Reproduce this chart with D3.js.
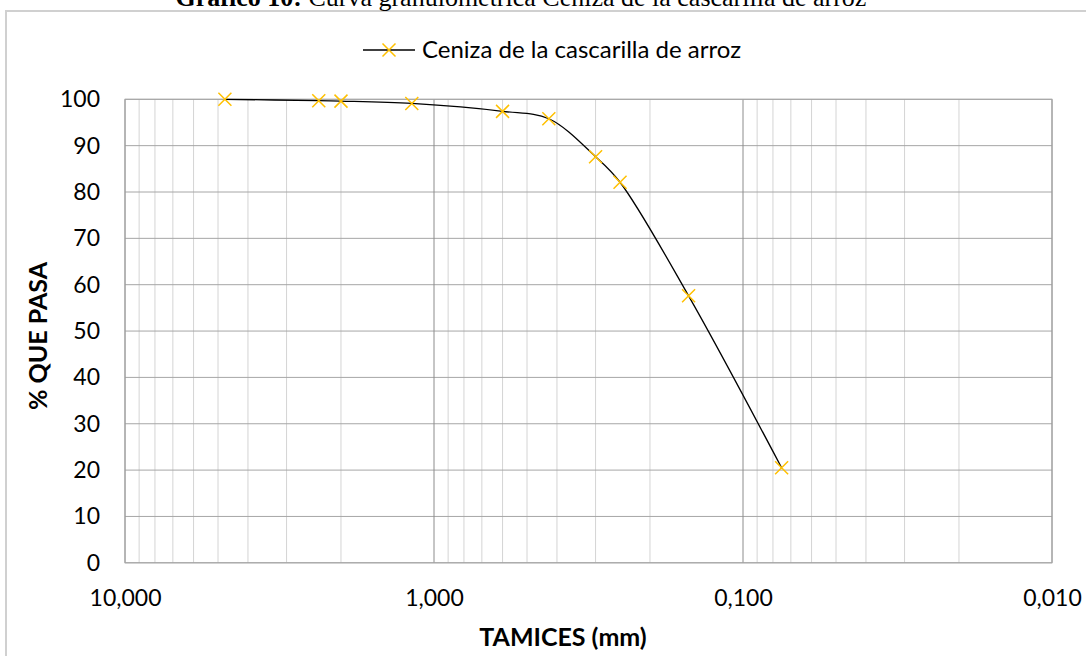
<!DOCTYPE html>
<html>
<head>
<meta charset="utf-8">
<script src="https://cdn.jsdelivr.net/npm/d3@7"></script>
<style>
  html, body { margin: 0; padding: 0; background: #fff; }
  svg { display: block; }
</style>
</head>
<body>
<svg id="chart" width="1086" height="656"></svg>
<script>
// Sieve openings (mm) and cumulative percentage passing
const sieves = [4.75, 2.36, 2.00, 1.18, 0.60, 0.425, 0.300, 0.250, 0.150, 0.075];
const passing = [100, 99.7, 99.6, 99.1, 97.4, 95.8, 87.6, 82.1, 57.6, 20.5];
const xTicks = [10, 1, 0.1, 0.01];
const yTicks = [0, 10, 20, 30, 40, 50, 60, 70, 80, 90, 100];
const seriesName = "Ceniza de la cascarilla de arroz";

const svg = d3.select("#chart");
const plot = { left: 125, right: 1052, top: 99.3, bottom: 562.8 };
const sansFont = "Lato, 'Open Sans', sans-serif";

// chart frame
svg.append("rect")
  .attr("x", 6).attr("y", 11)
  .attr("width", 1200).attr("height", 700)
  .attr("fill", "#fff").attr("stroke", "#d0d0d0").attr("stroke-width", 2);

// caption above the chart
const cap = svg.append("text")
  .attr("x", 521).attr("y", 6)
  .attr("text-anchor", "middle")
  .attr("font-family", "'Liberation Serif', 'Times New Roman', serif")
  .attr("font-size", 26)
  .attr("fill", "#000");
cap.append("tspan").attr("font-weight", "bold").text("Gráfico 10:");
cap.append("tspan").text(" Curva granulométrica Ceniza de la cascarilla de arroz");

const x = d3.scaleLog().domain([10, 0.01]).range([plot.left, plot.right]);
const y = d3.scaleLinear().domain([0, 100]).range([plot.bottom, plot.top]);

// vertical grid: minor lines inside each decade, darker at decades
const minor = [];
for (let e = -2; e <= 0; e++) {
  for (let m = 2; m <= 9; m++) minor.push(m * Math.pow(10, e));
}
const g = svg.append("g");
g.selectAll("line.vminor").data(minor).join("line")
  .attr("x1", d => x(d)).attr("x2", d => x(d))
  .attr("y1", plot.top).attr("y2", plot.bottom)
  .attr("stroke", "#d4d4d4").attr("stroke-width", 1);

// horizontal grid
g.selectAll("line.h").data(yTicks).join("line")
  .attr("x1", plot.left).attr("x2", plot.right)
  .attr("y1", d => y(d)).attr("y2", d => y(d))
  .attr("stroke", "#a6a6a6").attr("stroke-width", 1);

g.selectAll("line.vmajor").data(xTicks).join("line")
  .attr("x1", d => x(d)).attr("x2", d => x(d))
  .attr("y1", plot.top).attr("y2", plot.bottom)
  .attr("stroke", "#8c8c8c").attr("stroke-width", 1);

// plot border
svg.append("rect")
  .attr("x", plot.left).attr("y", plot.top)
  .attr("width", plot.right - plot.left).attr("height", plot.bottom - plot.top)
  .attr("fill", "none").attr("stroke", "#a6a6a6").attr("stroke-width", 1);

// tick labels via d3 axes (no domain / tick lines)
const fmtX = d => d3.format(".3f")(d).replace(".", ",");
const xAxis = svg.append("g")
  .attr("transform", `translate(0,${plot.bottom})`)
  .call(d3.axisBottom(x).tickValues(xTicks).tickFormat(fmtX).tickSize(0).tickPadding(27));
const yAxis = svg.append("g")
  .attr("transform", `translate(${plot.left},0)`)
  .call(d3.axisLeft(y).tickValues(yTicks).tickSize(0).tickPadding(25));
[xAxis, yAxis].forEach(a => {
  a.select(".domain").remove();
  a.selectAll("text")
    .attr("font-family", sansFont).attr("font-size", 23).attr("fill", "#000");
});

// axis titles
svg.append("text")
  .attr("x", 563).attr("y", 646)
  .attr("text-anchor", "middle")
  .attr("font-family", sansFont).attr("font-weight", "bold").attr("font-size", 25)
  .text("TAMICES (mm)");
svg.append("text")
  .attr("transform", "translate(47,336) rotate(-90)")
  .attr("text-anchor", "middle")
  .attr("font-family", sansFont).attr("font-weight", "bold").attr("font-size", 25)
  .text("% QUE PASA");

// smoothed curve
const pts = sieves.map((s, i) => [s, passing[i]]);
const line = d3.line()
  .x(d => x(d[0])).y(d => y(d[1]))
  .curve(d3.curveCatmullRom.alpha(0.5));
svg.append("path")
  .datum(pts)
  .attr("d", line)
  .attr("fill", "none").attr("stroke", "#000").attr("stroke-width", 1.3);

// x markers
const mk = 6.5;
const crossPath = `M${-mk},${-mk}L${mk},${mk}M${-mk},${mk}L${mk},${-mk}`;
svg.append("g").selectAll("path").data(pts).join("path")
  .attr("transform", d => `translate(${x(d[0])},${y(d[1])})`)
  .attr("d", crossPath)
  .attr("stroke", "#FFC000").attr("stroke-width", 1.5).attr("fill", "none");

// legend
const lg = svg.append("g").attr("transform", "translate(363,50)");
lg.append("line").attr("x1", 0).attr("x2", 52).attr("y1", 0).attr("y2", 0)
  .attr("stroke", "#000").attr("stroke-width", 1.3);
lg.append("path").attr("transform", "translate(26,0)").attr("d", crossPath)
  .attr("stroke", "#FFC000").attr("stroke-width", 1.5).attr("fill", "none");
lg.append("text").attr("x", 59).attr("y", 0).attr("dy", "0.35em")
  .attr("font-family", sansFont).attr("font-size", 24).attr("fill", "#000")
  .text(seriesName);
</script>
</body>
</html>
